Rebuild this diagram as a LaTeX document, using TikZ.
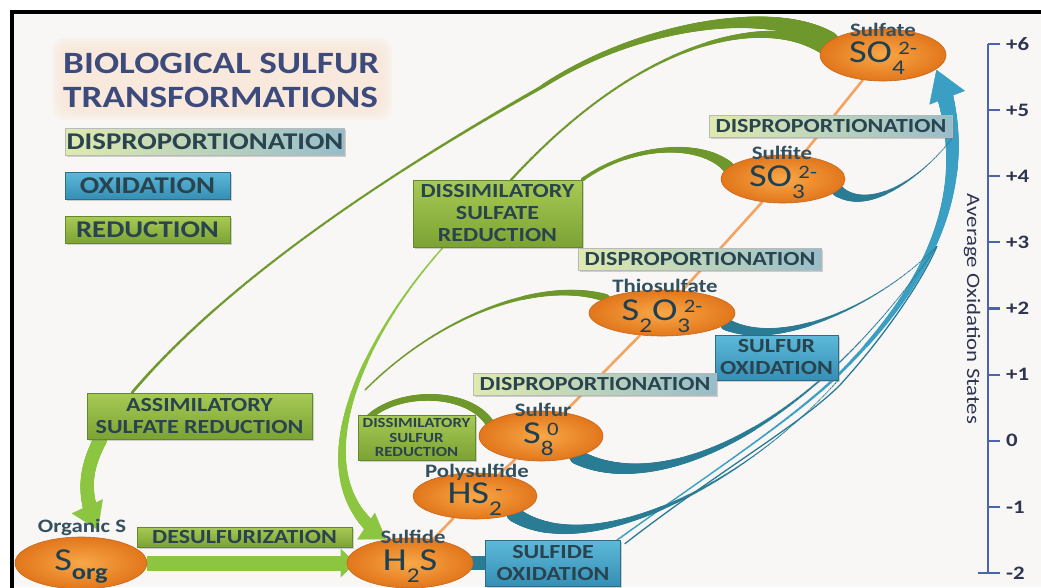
\documentclass[tikz,border=0pt]{standalone}
\usepackage{fontspec}
\setmainfont{Carlito}[FakeStretch=1.2]
\usetikzlibrary{calc,shapes.geometric,arrows.meta,decorations.markings,backgrounds,shadows}

\definecolor{paper}{HTML}{F8F7F5}
\definecolor{titleblue}{HTML}{3C4B7C}
\definecolor{titleglow}{HTML}{FBE3CF}
\definecolor{boxink}{HTML}{29434F}
\definecolor{specink}{HTML}{1E4053}
\definecolor{nameink}{HTML}{34505F}
\definecolor{orangeL}{HTML}{F8A848}
\definecolor{orangeD}{HTML}{E2761B}
\definecolor{orangeE}{HTML}{C9661C}
\definecolor{ladder}{HTML}{F4A462}
\definecolor{redtop}{HTML}{A8CA55}
\definecolor{redbot}{HTML}{7BA234}
\definecolor{redline}{HTML}{62892A}
\definecolor{oxtop}{HTML}{5DB9D9}
\definecolor{oxbot}{HTML}{358FB5}
\definecolor{oxline}{HTML}{2A6E88}
\definecolor{dispL}{HTML}{DFEAAE}
\definecolor{dispM}{HTML}{E7EEDA}
\definecolor{dispR}{HTML}{98BDCA}
\definecolor{swgreen}{HTML}{6E982B}
\definecolor{swlime}{HTML}{8CC540}
\definecolor{swteal}{HTML}{2A7C95}
\definecolor{swblue}{HTML}{3A9FC3}
\definecolor{axisblue}{HTML}{4A65AD}
\definecolor{tickink}{HTML}{2E3550}

%% chemical formula pieces
\newcommand{\lowidx}[1]{\raisebox{-0.38em}{\fontsize{21}{21}\selectfont #1}}
\newcommand{\sform}[3]{#1\lowidx{#2}\kern-0.2em\raisebox{0.25em}{\fontsize{19}{19}\selectfont #3}}

\tikzset{
  %% brush stroke whose half width runs from #2 down to #3 and up to #4
  taper/.style n args={6}{
    postaction={decorate,decoration={markings,
      mark=between positions 0 and #6 step 1pt with {
        \pgfmathsetmacro\swT{min(1,max(0,\pgfkeysvalueof{/pgf/decoration/mark info/distance from start}/\pgfdecoratedpathlength))}
        \pgfmathsetmacro\swR{#3+(#2-#3)*(1-\swT)^#5+(#4-#3)*\swT^#5}
        \fill[#1] (0,0) circle (\swR pt);
      }}}},
  %% arrow head of colour #1 and shape #2 placed at #3 along the path
  tipped/.style n args={3}{
    postaction={decorate,decoration={markings,
      mark=at position #3 with {\arrow[#1]{#2}}}}},
  species/.style={ellipse, minimum width=124pt, minimum height=48pt, inner sep=0pt,
    text height=20pt, text depth=5pt,
    inner color=orangeL, outer color=orangeD, draw=orangeE, line width=0.6pt,
    text=specink, font=\fontsize{32}{32}\selectfont},
  spname/.style={inner sep=0pt, text=nameink, font=\bfseries\fontsize{19}{19}\selectfont},
  redbox/.style={draw=redline, top color=redtop, bottom color=redbot, text=boxink,
    align=center, inner sep=0pt, font=\bfseries\fontsize{20}{22}\selectfont,
    drop shadow={shadow xshift=1.5pt, shadow yshift=-1.5pt, opacity=0.35}},
  oxbox/.style={redbox, draw=oxline, top color=oxtop, bottom color=oxbot},
  dispbox/.style={redbox, draw=gray!55, left color=dispL, middle color=dispM, right color=dispR,
    minimum width=243pt, minimum height=22pt},
  axisline/.style={axisblue, line width=2.2pt},
  ticklab/.style={anchor=west, inner sep=0pt, text=tickink, font=\bfseries\fontsize{19}{19}\selectfont},
}

\begin{document}
\begin{tikzpicture}[x=1pt,y=-1pt]
  \useasboundingbox (0,0) rectangle (1041,587);

  %% title and key
  \node[anchor=base west, inner sep=0pt, text=titleblue, font=\bfseries\fontsize{31}{31}\selectfont] (TITLE1) at (63,73) {BIOLOGICAL SULFUR};
  \node[anchor=base west, inner sep=0pt, text=titleblue, font=\bfseries\fontsize{31}{31}\selectfont] (TITLE2) at (63,107) {TRANSFORMATIONS};
  \node[dispbox, minimum width=279pt, minimum height=27pt, font=\bfseries\fontsize{24}{24}\selectfont] (KEYD) at (205,141.5) {DISPROPORTIONATION};
  \node[oxbox, minimum width=165pt, minimum height=27pt, font=\bfseries\fontsize{24}{24}\selectfont] (KEYO) at (147.5,185.5) {OXIDATION};
  \node[redbox, minimum width=165pt, minimum height=27pt, font=\bfseries\fontsize{24}{24}\selectfont] (KEYR) at (147.5,230) {REDUCTION};

  %% process boxes
  \node[redbox, minimum width=169pt, minimum height=67pt] (DSR) at (497.5,213.5) {DISSIMILATORY\\SULFATE\\REDUCTION};
  \node[redbox, minimum width=225pt, minimum height=46pt] (ASR) at (199.5,416) {ASSIMILATORY\\SULFATE REDUCTION};
  \node[redbox, minimum width=117pt, minimum height=45pt, font=\bfseries\fontsize{14}{14.5}\selectfont] (DSUR) at (416.5,437.5) {DISSIMILATORY\\SULFUR\\REDUCTION};
  \node[redbox, minimum width=215pt, minimum height=20pt] (DESULF) at (244.5,537) {DESULFURIZATION};
  \node[oxbox, minimum width=123pt, minimum height=45pt] (SUOX) at (776.5,357.5) {SULFUR\\OXIDATION};
  \node[oxbox, minimum width=135pt, minimum height=46pt] (SDOX) at (553,563) {SULFIDE\\OXIDATION};
  \node[dispbox] (DISP1) at (831,126) {DISPROPORTIONATION};
  \node[dispbox] (DISP2) at (700,259) {DISPROPORTIONATION};
  \node[dispbox] (DISP3) at (595,384) {DISPROPORTIONATION};

  %% sulfur species
  \node[species, minimum width=126pt, minimum height=52pt] (SO4) at (883,55) {\sform{SO}{4}{2-}};
  \node[species] (SO3) at (783,179) {\sform{SO}{3}{2-}};
  \node[species, minimum width=146pt, minimum height=46pt] (S2O3) at (662,313) {S\lowidx{2}\sform{O}{3}{2-}};
  \node[species, minimum height=50pt] (S8) at (541,436) {\sform{S}{8}{0}};
  \node[species, minimum height=46pt] (HS2) at (475,496) {\sform{HS}{2}{-}};
  \node[species, minimum width=126pt, minimum height=50pt] (H2S) at (410,563) {H\lowidx{2}S};
  \node[species, minimum width=132pt, minimum height=52pt] (SORG) at (81,563) {S\raisebox{-0.28em}{\bfseries\fontsize{22}{22}\selectfont org}};

  \node[spname] (SO4name) at (883,30) {Sulfate};
  \node[spname] (SO3name) at (782,153) {Sulfite};
  \node[spname] (S2O3name) at (665,286) {Thiosulfate};
  \node[spname] (S8name) at (543,410) {Sulfur};
  \node[spname] (HS2name) at (477,472) {Polysulfide};
  \node[spname] (H2Sname) at (413,537) {Sulfide};
  \node[spname] (SORGname) at (82,527) {Organic S};

  \coordinate (GJOIN) at (365,390);
  \coordinate (OXJOIN) at (937,246);

  \begin{pgfonlayer}{background}
    \fill[white] (0,0) rectangle (1041,587);
    \fill[paper] (12,12) rectangle (1041,587);
    %% soft glow behind the title
    \foreach \g in {0,3,6,9}
      \fill[titleglow, fill opacity=0.22, rounded corners=12pt] (52+\g,38+\g) rectangle (392-\g,120-\g);

    %% ladder of oxidation states
    \draw[ladder, line width=2.6pt] (SO4) -- (SO3) -- (S2O3) -- (S8) -- (HS2) -- (H2S);

    %% reduction (green)
    \path[taper={swgreen}{9}{1.2}{1.6}{5}{1}] (SO4.165) .. controls (775,5) and (640,22) .. (540,88)
      .. controls (430,150) and (240,265) .. ($(ASR.north west)!0.2!(ASR.north east)$);
    \path[taper={swgreen}{7}{1.2}{1.4}{5}{1}] (SO4.172) .. controls (760,15) and (640,40) .. ($(DSR.north west)!0.58!(DSR.north east)$);
    \path[taper={swgreen}{6}{1.8}{2}{3}{1}] (SO3.168) .. controls (700,140) and (630,145) .. (DSR.north east);
    \path[taper={swgreen}{4}{1}{1}{3}{1}] (S2O3.165) .. controls (540,278) and (440,315) .. (GJOIN);
    \path[taper={swgreen}{4.5}{3}{3}{2}{1}] (S8.165) .. controls (465,388) and (390,390) .. ($(DSUR.north west)+(6,8)$);
    \path[taper={swlime}{1}{1}{7}{2}{-22pt}, tipped={swlime}{Triangle[width=32pt,length=24pt]}{-0.5pt}]
      ($(DSR.south west)!0.18!(DSR.south east)$) .. controls (360,340) and (295,480) .. (H2S.135);
    \path[taper={swlime}{7}{6}{8}{2}{-33pt}, tipped={swlime}{Triangle[width=34pt,length=26pt]}{-9pt}]
      ($(ASR.south west)!0.06!(ASR.south east)$) .. controls (85,470) and (80,495) .. (SORG.50);
    \draw[swlime, line width=15pt, -{Triangle[width=28pt,length=15pt]}, shorten >=-9pt] (SORG.east) -- (H2S.west);

    %% oxidation (blue)
    \draw[swteal, line width=14pt] (H2S.center) -- (SDOX.center);
    \path[taper={swblue}{1}{0.8}{9.5}{3}{-28pt}, tipped={swblue}{Triangle[width=38pt,length=30pt]}{-0.5pt}]
      ($(SDOX.north east)+(-6,2)$) .. controls (700,480) and (785,425) .. (835,378)
      .. controls (915,300) and (985,195) .. (SO4.-15);
    \draw[swteal, line width=1.3pt] ($(SDOX.north east)+(4,4)$) .. controls (720,470) and (800,425) .. (840,385)
      .. controls (890,330) and (925,275) .. (OXJOIN);
    \path[taper={swteal}{7.5}{0.6}{0.6}{3}{1}] (HS2.-25) .. controls (585,562) and (740,490) .. (SUOX.south east);
    \path[taper={swteal}{7.5}{0.6}{0.6}{3}{1}] (S8.-30) .. controls (650,495) and (800,445) .. (OXJOIN);
    \path[taper={swteal}{6}{0.6}{0.6}{3}{1}] (S2O3.-10) .. controls (780,350) and (880,305) .. (OXJOIN);
    \path[taper={swteal}{6}{0.6}{0.6}{3}{1}] (SO3.-12) .. controls (870,215) and (925,175) .. (DISP1.south east);
  \end{pgfonlayer}

  %% oxidation state axis
  \draw[axisline] (988,44) coordinate (AXTOP) -- (988,573) coordinate (AXBOT);
  \foreach \lab [count=\i from 0] in {+6,+5,+4,+3,+2,+1,0,-1,-2}
  {
    \draw[axisline] (988,44+66.125*\i) -- ++(12,0);
    \node[ticklab] (TK\i) at (1006,44+66.125*\i) {\lab};
  }
  \draw[axisline] (AXBOT) -- ++(-10,0);
  \node[rotate=-90, inner sep=0pt, text=tickink, font=\fontsize{19}{19}\selectfont] (AXLAB) at (972,309) {Average Oxidation States};

  %% frame
  \draw[line width=3.5pt] (12,590) -- (12,12) -- (1045,12);
\end{tikzpicture}
\end{document}
